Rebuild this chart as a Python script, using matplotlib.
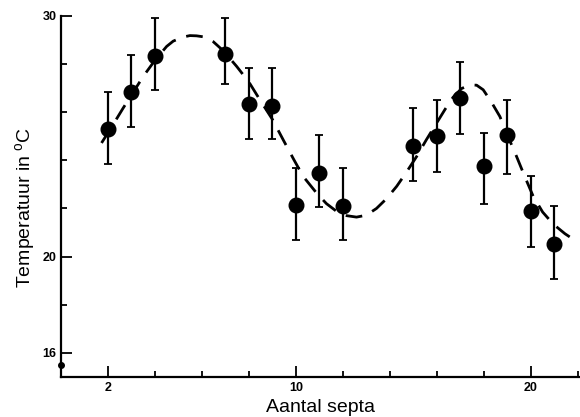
import matplotlib.pyplot as plt
from matplotlib.ticker import MultipleLocator


# ==========================
# Data
# ==========================

septa = [2, 3, 4, 7, 8, 9, 10, 11, 12, 15, 16, 17, 18, 19, 20, 21]

temp = [25.3, 26.85, 28.35, 28.42, 26.35, 26.27, 22.16, 23.49,
        22.12, 24.61, 25.02, 26.6, 23.78, 25.06, 21.91, 20.54]

temp_low = [23.86, 25.39, 26.93, 27.18, 24.9, 24.9, 20.71, 22.07,
            20.71, 23.15, 23.53, 25.1, 22.2, 23.44, 20.41, 19.05]

temp_high = [26.85, 28.38, 29.92, 29.92, 27.84, 27.84, 23.69, 25.06,
             23.69, 26.18, 26.51, 28.09, 25.15, 26.51, 23.36, 22.12]

# dashed curve
curve_x = [1.73, 2.2, 2.65, 3.1, 3.5, 4.0, 4.5, 4.78, 5.2, 5.49, 5.77,
           6.13, 6.48, 6.91, 7.48, 8.0, 8.47, 9.0, 9.46, 9.9, 10.31,
           10.88, 11.3, 11.73, 12.16, 12.58, 13.0, 13.43, 13.85, 14.29,
           14.7, 15.14, 15.55, 15.99, 16.35, 16.69, 17.05, 17.4, 17.69,
           17.97, 18.3, 18.68, 19.0, 19.39, 19.75, 20.1, 20.5, 20.95,
           21.45, 21.94]

curve_y = [24.72, 25.45, 26.17, 26.86, 27.48, 28.15, 28.73, 28.95, 29.12,
           29.18, 29.17, 29.12, 28.93, 28.55, 27.9, 27.25, 26.51, 25.7,
           24.85, 24.05, 23.33, 22.64, 22.2, 21.88, 21.7, 21.64, 21.72,
           22.0, 22.4, 22.92, 23.5, 24.16, 24.85, 25.55, 26.12, 26.62,
           26.98, 27.13, 27.12, 26.93, 26.45, 25.82, 25.05, 24.16,
           23.3, 22.5, 21.85, 21.35, 20.95, 20.63]

# small mark on the y axis near the origin
origin_mark = (0, 15.5)


# ==========================
# Figure
# ==========================

plt.rcParams["font.family"] = ["Liberation Sans", "DejaVu Sans"]

fig = plt.figure(figsize=(5.8, 4.17), dpi=100)
ax = fig.add_axes([0.105, 0.096, 0.895, 0.866])

err_low = [t - l for t, l in zip(temp, temp_low)]
err_high = [h - t for t, h in zip(temp, temp_high)]

ax.errorbar(
    septa,
    temp,
    yerr=[err_low, err_high],
    fmt="o",
    color="black",
    markersize=10.5,
    elinewidth=1.6,
    capsize=3,
    capthick=1.3,
    zorder=3
)

ax.plot(
    curve_x,
    curve_y,
    color="black",
    linewidth=2,
    linestyle=(0, (6, 4)),
    zorder=2
)

ax.plot(
    *origin_mark,
    marker="o",
    markersize=4,
    color="black",
    clip_on=False
)

ax.set_xlim(0, 22.09)
ax.set_ylim(15, 30)

ax.set_xticks([2, 10, 20])
ax.set_yticks([16, 20, 30])
ax.xaxis.set_minor_locator(MultipleLocator(2))
ax.yaxis.set_minor_locator(MultipleLocator(2))

ax.tick_params(which="both", direction="in", width=1.3, labelsize=9)
ax.tick_params(which="major", length=8)
ax.tick_params(which="minor", length=4)
ax.tick_params(axis="y", pad=3)

for lab in ax.get_xticklabels() + ax.get_yticklabels():
    lab.set_fontweight("bold")

ax.spines["top"].set_visible(False)
ax.spines["right"].set_visible(False)
ax.spines["left"].set_linewidth(1.6)
ax.spines["bottom"].set_linewidth(1.6)

ax.set_xlabel("Aantal septa", fontsize=14, labelpad=4)
ax.set_ylabel("Temperatuur in $^\\mathregular{o}$C", fontsize=14)
ax.yaxis.set_label_coords(-0.045, 0.47)

fig.savefig("out.png", dpi=100)
